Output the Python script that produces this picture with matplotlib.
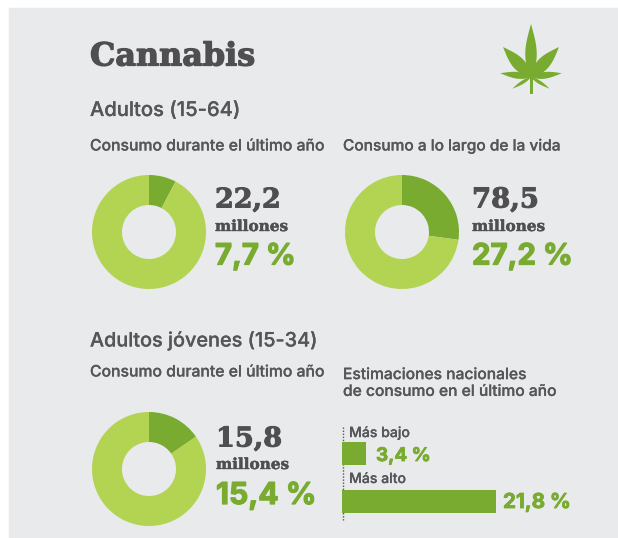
import matplotlib
matplotlib.use("Agg")
import matplotlib.pyplot as plt
import matplotlib.patheffects as pe
from matplotlib.patches import Polygon, Rectangle
import numpy as np

W, H = 618, 538
BG = "#e9eaec"
LIGHT = "#b2d452"
DARK = "#78ab2f"
GREY = "#4f4f51"
TXT = "#55565a"

title = "Cannabis"
section_adults = "Adultos (15-64)"
section_young = "Adultos jóvenes (15-34)"
labels_panels = ["Consumo durante el último año", "Consumo a lo largo de la vida",
                 "Consumo durante el último año"]
donut_shares = [7.7, 27.2, 15.4]
donut_millions = ["22,2", "78,5", "15,8"]
donut_pct = ["7,7 %", "27,2 %", "15,4 %"]
bar_title = "Estimaciones nacionales\nde consumo en el último año"
bar_labels = ["Más bajo", "Más alto"]
bar_values = [3.4, 21.8]
bar_text = ["3,4 %", "21,8 %"]

fig = plt.figure(figsize=(W / 100, H / 100), dpi=100, facecolor="white")
ax = fig.add_axes([0, 0, 1, 1])
ax.set_xlim(0, W)
ax.set_ylim(H, 0)
ax.axis("off")
ax.add_patch(Rectangle((9, 8), W - 9, H - 8, color=BG, zorder=0))

SERIF = "DejaVu Serif"
SANS = "Inter"
renderer = fig.canvas.get_renderer()


def t(x, y, s, width, color=TXT, weight="normal", family=SANS, stroke=0, **kw):
    """Place text, sizing it so that it spans the given pixel width."""
    txt = ax.text(x, y, s, fontsize=12, color=color, weight=weight, family=family,
                  va="center", ha="left", **kw)
    txt.set_fontsize(12 * width / txt.get_window_extent(renderer).width)
    if stroke:
        txt.set_path_effects([pe.withStroke(linewidth=stroke, foreground=color)])
    return txt


t(90, 57, title, 165, GREY, "bold", SERIF, stroke=0.9)
t(90, 111, section_adults, 150, TXT, "medium", stroke=0.15)
t(90, 341, section_young, 227, TXT, "medium", stroke=0.15)
t(90, 146, labels_panels[0], 235, TXT, "medium", stroke=0.15)
t(343, 146, labels_panels[1], 218, TXT, "medium", stroke=0.15)
t(90, 372, labels_panels[2], 235, TXT, "medium", stroke=0.15)
t(343, 383, bar_title, 214, TXT, "medium", stroke=0.15, linespacing=1.15)

centers = [(149, 232), (402, 232), (149, 469)]
text_pos = [(215, 200, 227, 257), (472, 200, 227, 257), (216, 439, 465, 496)]
num_w = [66, 67, 66]
pct_w = [81, 101, 101]
for i, share in enumerate(donut_shares):
    # y axis is inverted: angle 270 is 12 o'clock and increasing angles run clockwise on screen
    ax.pie([share, 100 - share], colors=[DARK, LIGHT], center=centers[i], radius=57,
           startangle=270, counterclock=True,
           wedgeprops=dict(width=30, linewidth=0), frame=True)
    x, y1, y2, y3 = text_pos[i]
    t(x, y1, donut_millions[i], num_w[i], GREY, "bold", SERIF, stroke=0.7)
    t(x, y2, "millones", 73, GREY, "bold", SERIF, stroke=0.3)
    t(x, y3, donut_pct[i], pct_w[i], DARK, "bold", stroke=0.9)

ax.set_xlim(0, W)
ax.set_ylim(H, 0)
ax.set_aspect("auto")
ax.axis("off")

# horizontal bars, scaled through a dedicated axes
bx = fig.add_axes([342 / W, 1 - 528 / H, 190 / W, 100 / H])
bx.set_xlim(0, 190 / 7.06)
bx.set_ylim(100, 0)
bx.axis("off")
bx.patch.set_alpha(0)
bx.barh([25, 73], bar_values, height=23, color=DARK, linewidth=0)
ax.plot([342.5, 342.5], [427, 520], color="#55565a", lw=1, ls=(0, (1, 1.2)), zorder=5)
t(349, 433, bar_labels[0], 61, TXT, "medium", stroke=0.15)
t(349, 479, bar_labels[1], 57, TXT, "medium", stroke=0.15)
t(376, 456, bar_text[0], 55, DARK, "bold", stroke=0.6)
t(503, 503, bar_text[1], 68, DARK, "bold", stroke=0.6)


# leaf icon
def leaf(cx, cy, ang, length, width):
    s = np.linspace(0, 1, 30)
    w = width * np.sin(np.pi * s ** 0.85) * (1 - 0.1 * s)
    xs = np.r_[s, s[::-1]] * length
    ys = np.r_[w, -w[::-1]] / 2
    a = np.deg2rad(ang)
    px = cx + xs * np.cos(a) - ys * np.sin(a)
    py = cy - xs * np.sin(a) - ys * np.cos(a)
    ax.add_patch(Polygon(np.c_[px, py], color=DARK, lw=0, zorder=3))


c = (531, 77)
for ang, ln, wd in [(90, 53, 12), (133, 41, 13), (47, 41, 13), (173, 31, 7), (7, 31, 7),
                    (212, 22, 3.5), (-32, 22, 3.5)]:
    leaf(*c, ang, ln, wd)
ax.add_patch(Rectangle((529.7, 74), 3, 20, color=DARK, lw=0, zorder=3))

fig.savefig("out.png", dpi=100, facecolor="white")
